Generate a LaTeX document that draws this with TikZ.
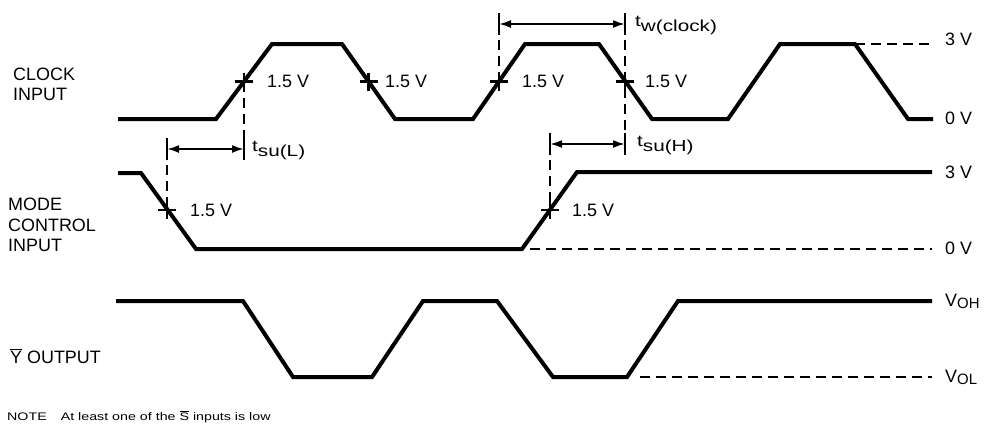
\documentclass[tikz,border=0pt]{standalone}
\usepackage{fontspec}
\setmainfont{Liberation Sans}
\newfontfamily\widefont[FakeStretch=1.3]{Liberation Sans}
\usetikzlibrary{arrows.meta}
\begin{document}
\begin{tikzpicture}[x=1bp,y=-1bp,
  wave/.style={line width=4bp, line join=miter},
  refline/.style={line width=1.9bp, dash pattern=on 10bp off 6bp},
  tickline/.style={line width=2.2bp},
  dimline/.style={line width=2bp, {Latex[length=12bp,width=8bp]}-{Latex[length=12bp,width=8bp]}},
  lbl/.style={inner sep=0pt, anchor=base west, font=\fontsize{18}{21}\selectfont},
  tlbl/.style={inner sep=0pt, anchor=base west, font=\widefont\fontsize{16}{19}\selectfont},
]
\useasboundingbox (0,0) rectangle (993,425);

% ---------- left labels
\node[lbl] (clkA) at (13,80) {CLOCK};
\node[lbl] (clkB) at (13,100) {INPUT};
\node[lbl] (modA) at (8,210) {MODE};
\node[lbl] (modB) at (8,231) {CONTROL};
\node[lbl] (modC) at (8,251) {INPUT};
\node[lbl] (yout) at (10,363) {$\overline{\mbox{Y}}$ OUTPUT};
\node[inner sep=0pt, anchor=base west, font=\widefont\fontsize{11}{13}\selectfont] (note) at (7,420)
  {NOTE\hspace{14bp}At least one of the $\overline{\mbox{S}}$ inputs is low};

% ---------- waveforms
\draw[wave] (118,119) -- (216,119) -- (272,44) -- (342,44) -- (395,119) -- (473,119)
  -- (525,44) -- (599,44) -- (652,119) -- (728,119) -- (780,44) -- (855,44)
  -- (908,119) -- (933,119);
\draw[wave] (118,173) -- (141,173) -- (196,249) -- (522,249) -- (577,172) -- (932,172);
\draw[wave] (116,301) -- (243,301) -- (293,377) -- (372,377) -- (423,301) -- (497,301)
  -- (553,377) -- (627,377) -- (678,301) -- (932,301);

% ---------- reference levels
\draw[refline] (855,44) -- (935,44);
\draw[refline] (530,249) -- (932,249);
\draw[refline] (640,377) -- (932,377);

% ---------- right labels
\node[lbl] (v3a) at (945,45) {3 V};
\node[lbl] (v0a) at (945,124) {0 V};
\node[lbl] (v3b) at (945,178) {3 V};
\node[lbl] (v0b) at (945,254) {0 V};
\node[lbl] (voh) at (945,306) {V\raisebox{-2bp}{\fontsize{15}{17}\selectfont OH}};
\node[lbl] (vol) at (945,382) {V\raisebox{-2bp}{\fontsize{15}{17}\selectfont OL}};

% ---------- 1.5 V crossing points
\coordinate (k1) at (244,81.5);
\coordinate (k2) at (368.5,81.5);
\coordinate (k3) at (499,81.5);
\coordinate (k4) at (625,81.5);
\coordinate (m1) at (167,210);
\coordinate (m2) at (550,210);
\foreach \p in {k1,k2,k3,k4,m1,m2}{
  \draw[tickline] (\p) ++(-9,0) -- ++(18,0);
  \draw[tickline] (\p) ++(0,-9) -- ++(0,18);
}
\node[lbl] (l1) at (267,87) {1.5 V};
\node[lbl] (l2) at (385,87) {1.5 V};
\node[lbl] (l3) at (522,87) {1.5 V};
\node[lbl] (l4) at (645,87) {1.5 V};
\node[lbl] (l5) at (190,216) {1.5 V};
\node[lbl] (l6) at (572,216) {1.5 V};

% ---------- dimension arrow end points
\coordinate (Wl) at (499,24);
\coordinate (Wr) at (625,24);
\coordinate (Hl) at (550,144);
\coordinate (Hr) at (625,144);
\coordinate (Ll) at (167,149);
\coordinate (Lr) at (244,149);

% dashed extension lines
\draw[refline] (Wl) -- (k3);
\draw[refline] (Wr) -- (Hr);
\draw[refline] (Hl) -- (m2);
\draw[refline] (k1) -- (Lr);
\draw[refline] (Ll) -- (m1);

% end bars
\foreach \p in {Wl,Wr,Hl,Hr,Ll,Lr}{
  \draw[tickline] (\p) ++(0,-11) -- ++(0,22);
}

% arrows
\draw[dimline] (Wl) -- (Wr);
\draw[dimline] (Hl) -- (Hr);
\draw[dimline] (Ll) -- (Lr);

% timing labels
\node[tlbl] (tw) at (635,26) {t\raisebox{-5bp}{w(clock)}};
\node[tlbl] (tsh) at (637,146) {t\raisebox{-5bp}{su(H)}};
\node[tlbl] (tsl) at (252,151) {t\raisebox{-5bp}{su(L)}};
\end{tikzpicture}
\end{document}
